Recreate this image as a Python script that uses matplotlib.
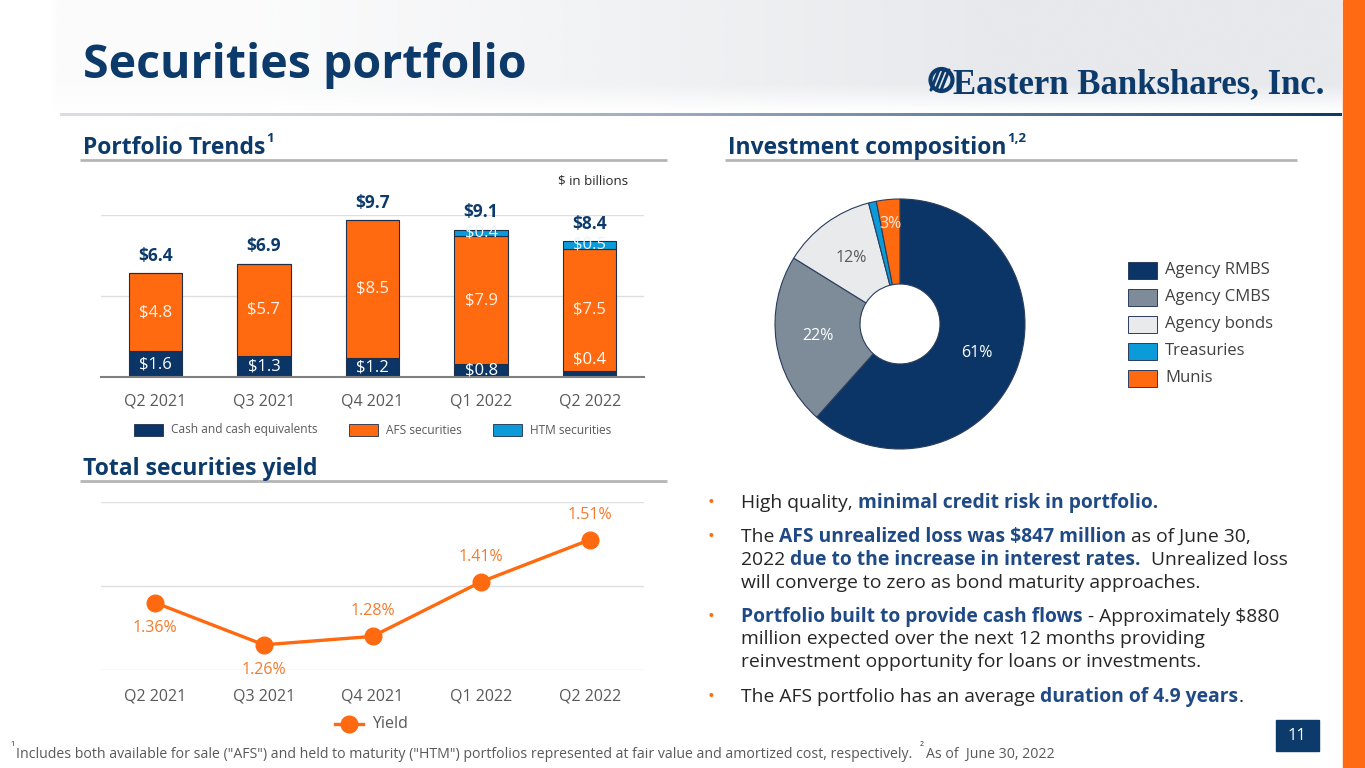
import matplotlib
matplotlib.use('Agg')
import matplotlib.pyplot as plt
import numpy as np
from matplotlib.patches import Rectangle, Circle
from matplotlib.lines import Line2D
from matplotlib.colors import to_rgb

# ---------------- data ----------------
quarters = ['Q2 2021', 'Q3 2021', 'Q4 2021', 'Q1 2022', 'Q2 2022']
cash = [1.6, 1.3, 1.2, 0.8, 0.4]
afs = [4.8, 5.7, 8.5, 7.9, 7.5]
htm = [0.0, 0.0, 0.0, 0.4, 0.5]
totals = [6.4, 6.9, 9.7, 9.1, 8.4]
bar_series = ['Cash and cash equivalents', 'AFS securities', 'HTM securities']

yields = [1.36, 1.26, 1.28, 1.41, 1.51]
yield_labels = ['1.36%', '1.26%', '1.28%', '1.41%', '1.51%']
yield_label_below = [True, True, False, False, False]

comp_labels = ['Agency RMBS', 'Agency CMBS', 'Agency bonds', 'Treasuries', 'Munis']
comp_values = [61, 22, 12, 1, 3]
comp_pct_text = ['61%', '22%', '12%', '', '3%']

# ---------------- style ----------------
NAVY = '#0B3566'
TITLE_NAVY = '#0C3A6B'
ORANGE = '#FF6A10'
LBLUE = '#0A9BD8'
GRAY_TXT = '#595959'
BOLD_BLUE = '#1F4A85'
comp_colors = [NAVY, '#7E8B99', '#E9EAEC', LBLUE, ORANGE]
comp_text_colors = ['white', 'white', '#595959', 'white', '#FFE8D8']

plt.rcParams['font.family'] = ['Open Sans', 'DejaVu Sans']

W, H = 1365, 768
fig = plt.figure(figsize=(W / 100, H / 100), dpi=100)
fig.patch.set_facecolor('white')

ov = fig.add_axes([0, 0, 1, 1], zorder=-5)
ov.set_xlim(0, W)
ov.set_ylim(H, 0)
ov.axis('off')

# header background (soft gray fade)
gx = np.linspace(0, 1, 200)
gy = np.linspace(0, 1, 40)
ax_alpha = np.clip(0.25 + 0.75 * (gx - 0.25) / 0.5, 0.15, 1.0)
ax_alpha[gx < 0.04] = 0
ay_alpha = np.clip((1 - gy) / 0.25, 0, 1)
alpha = np.outer(ay_alpha, ax_alpha) * 0.85
img = np.zeros((40, 200, 4))
img[..., :3] = to_rgb('#E3E5E9')
img[..., 3] = alpha
ov.imshow(img, extent=(0, 1342, 113, 0), aspect='auto', interpolation='bilinear', zorder=0)

# header line gradient
c0 = np.array(to_rgb('#DADDE2'))
c1 = np.array(to_rgb(TITLE_NAVY))
t = np.linspace(0, 1, 300) ** 1.6
line_img = (c0[None, :] * (1 - t[:, None]) + c1[None, :] * t[:, None])[None, :, :]
ov.imshow(line_img, extent=(60, 1342, 116.5, 113.5), aspect='auto', interpolation='bilinear', zorder=1)

# right orange bar
ov.add_patch(Rectangle((1343, 0), 22, H, color='#FF6A13', zorder=2))

# title
ov.text(83, 78, 'Securities portfolio', fontsize=33.5, fontweight='bold', color=TITLE_NAVY,
        va='baseline', ha='left')

# logo
ov.add_patch(Circle((941.5, 80), 11, facecolor='none', edgecolor=TITLE_NAVY, lw=3, zorder=3))
for k in (-4, 1, 6):
    ov.plot([935 + k, 943 + k], [90, 70], color=TITLE_NAVY, lw=2.2, zorder=3,
            solid_capstyle='round')
ov.text(953, 93, 'Eastern Bankshares, Inc.', fontsize=25, fontweight='bold',
        family=['Liberation Serif', 'DejaVu Serif'], color=TITLE_NAVY, va='baseline', ha='left')

renderer = fig.canvas.get_renderer()


def text_width(s, **kw):
    a = ov.text(0, 0, '|' + s + '|', **kw)
    b = ov.text(0, 0, '||', **kw)
    w = a.get_window_extent(renderer).width - b.get_window_extent(renderer).width
    a.remove()
    b.remove()
    return w


def heading(x, y, s, sup):
    ov.text(x, y, s, fontsize=16.5, fontweight='bold', color=TITLE_NAVY, va='baseline', ha='left')
    w = text_width(s, fontsize=16.5, fontweight='bold')
    ov.text(x + w + 1, y - 12, sup, fontsize=9.5, fontweight='bold', color=TITLE_NAVY,
            va='baseline', ha='left')


heading(83, 154, 'Portfolio Trends', '1')
heading(728, 154, 'Investment composition', '1,2')
ov.text(83, 475, 'Total securities yield', fontsize=16.5, fontweight='bold', color=TITLE_NAVY,
        va='baseline', ha='left')
for (x0, x1, y) in [(80, 667, 160), (725, 1297, 160), (80, 667, 481)]:
    ov.plot([x0, x1], [y, y], color='#B5B5B5', lw=2, zorder=2, solid_capstyle='butt')

# ---------------- bar chart ----------------
axb = fig.add_axes([101 / W, 1 - 377 / H, 543 / W, 162 / H])
x = np.arange(len(quarters))
bw = 0.49
bcolors = [NAVY, ORANGE, LBLUE]
edge = '#1E2F4A'
axb.bar(x, cash, bw, color=bcolors[0], edgecolor=edge, lw=0.8, zorder=3)
axb.bar(x, afs, bw, bottom=cash, color=bcolors[1], edgecolor=edge, lw=0.8, zorder=3)
bottom_htm = [c + a for c, a in zip(cash, afs)]
axb.bar(x, htm, bw, bottom=bottom_htm, color=bcolors[2], edgecolor=edge, lw=0.8, zorder=3)
axb.set_xlim(-0.5, len(quarters) - 0.5)
axb.set_ylim(0, 10)
axb.set_yticks([0, 5, 10])
axb.yaxis.grid(True, color='#DEDEDE', lw=1, zorder=0)
axb.tick_params(axis='y', left=False, labelleft=False)
axb.tick_params(axis='x', length=0, pad=12, labelsize=11.5, labelcolor=GRAY_TXT)
axb.set_xticks(x)
axb.set_xticklabels(quarters)
for s in ['top', 'right', 'left']:
    axb.spines[s].set_visible(False)
axb.spines['bottom'].set_color('#7F7F7F')
axb.spines['bottom'].set_linewidth(1.5)
axb.spines['bottom'].set_zorder(4)
axb.set_facecolor('none')

for i in range(len(quarters)):
    cy = cash[i] / 2 if cash[i] >= 0.6 else 1.1
    axb.text(x[i], cy, f'${cash[i]:.1f}', ha='center', va='center', color='white', fontsize=12, zorder=5)
    axb.text(x[i], cash[i] + afs[i] / 2, f'${afs[i]:.1f}', ha='center', va='center',
             color='#FFF1E8', fontsize=12, zorder=5)
    if htm[i] > 0:
        axb.text(x[i], bottom_htm[i] + htm[i] / 2, f'${htm[i]:.1f}', ha='center', va='center',
                 color='#E6F4FB', fontsize=12, zorder=5, clip_on=False)
    top = cash[i] + afs[i] + htm[i]
    axb.annotate(f'${totals[i]:.1f}', (x[i], top), xytext=(0, 6), textcoords='offset points',
                 ha='center', va='bottom', color=TITLE_NAVY, fontsize=12.5, fontweight='bold',
                 annotation_clip=False)

ov.text(628, 181, '$ in billions', fontsize=9.5, color='#262626', ha='right', va='center')

# bar legend
leg_items = [(134, bar_series[0]), (349, bar_series[1]), (493, bar_series[2])]
for (lx, lab), col in zip(leg_items, bcolors):
    ov.add_patch(Rectangle((lx, 423.5), 29, 12, facecolor=col, edgecolor=edge, lw=0.6))
    ov.text(lx + 37, 430, lab, fontsize=8.6, color=GRAY_TXT, va='center', ha='left')

# ---------------- line chart ----------------
axl = fig.add_axes([101 / W, 1 - 670 / H, 543 / W, 168 / H])
axl.plot(x, yields, color=ORANGE, lw=2.4, marker='o', markersize=12, zorder=4, clip_on=False)
axl.set_xlim(-0.5, len(quarters) - 0.5)
axl.set_ylim(1.2, 1.6)
axl.set_yticks([1.2, 1.4, 1.6])
axl.yaxis.grid(True, color='#E0E0E0', lw=1, zorder=0)
axl.tick_params(axis='y', left=False, labelleft=False)
axl.tick_params(axis='x', length=0, pad=13, labelsize=11.5, labelcolor=GRAY_TXT)
axl.set_xticks(x)
axl.set_xticklabels(quarters)
for s in axl.spines.values():
    s.set_visible(False)
axl.set_facecolor('none')
for i in range(len(quarters)):
    off = -18 if yield_label_below[i] else 18
    axl.annotate(yield_labels[i], (x[i], yields[i]), xytext=(0, off), textcoords='offset points',
                 ha='center', va='center', color='#F47B2C', fontsize=11.5, annotation_clip=False)

ov.add_line(Line2D([335, 363], [724, 724], color=ORANGE, lw=2.4, zorder=3))
ov.plot([349], [724], marker='o', color=ORANGE, markersize=12, zorder=4)
ov.text(372, 724, 'Yield', fontsize=11.5, color=GRAY_TXT, va='center', ha='left')

# ---------------- donut ----------------
axp = fig.add_axes([(900 - 125) / W, 1 - (324 + 125) / H, 250 / W, 250 / H])
wedges, _ = axp.pie(comp_values, colors=comp_colors, startangle=90, counterclock=False,
                    radius=1.0, wedgeprops=dict(width=0.68, edgecolor='#2A3D5C', linewidth=0.8))
axp.set_xlim(-1, 1)
axp.set_ylim(-1, 1)
for w, lab, tc in zip(wedges, comp_pct_text, comp_text_colors):
    if not lab:
        continue
    ang = np.deg2rad((w.theta1 + w.theta2) / 2)
    r = 0.66 if (w.theta2 - w.theta1) > 20 else 0.8
    axp.text(r * np.cos(ang), r * np.sin(ang), lab, ha='center', va='center',
             color=tc, fontsize=11.5)

for k, (lab, col) in enumerate(zip(comp_labels, comp_colors)):
    yy = 270 + 27 * k
    ov.add_patch(Rectangle((1128, yy - 8.5), 29, 17, facecolor=col, edgecolor='#2A3D5C', lw=0.7))
    ov.text(1165, yy, lab, fontsize=12, color='#404040', va='center', ha='left')

# ---------------- bullets ----------------
FS = 13.9
NORMAL = dict(fontsize=FS, color='#262626')
BOLD = dict(fontsize=FS, color=BOLD_BLUE, fontweight='bold')
bullet_lines = [
    (503, True, [('High quality, ', NORMAL), ('minimal credit risk in portfolio.', BOLD)]),
    (537, True, [('The ', NORMAL), ('AFS unrealized loss was $847 million', BOLD), (' as of June 30,', NORMAL)]),
    (560, False, [('2022 ', NORMAL), ('due to the increase in interest rates.', BOLD), ('  Unrealized loss', NORMAL)]),
    (583, False, [('will converge to zero as bond maturity approaches.', NORMAL)]),
    (617, True, [('Portfolio built to provide cash flows', BOLD), (' - Approximately $880', NORMAL)]),
    (639, False, [('million expected over the next 12 months providing', NORMAL)]),
    (662, False, [('reinvestment opportunity for loans or investments.', NORMAL)]),
    (697, True, [('The AFS portfolio has an average ', NORMAL), ('duration of 4.9 years', BOLD), ('.', NORMAL)]),
]
for yy, has_bullet, segs in bullet_lines:
    if has_bullet:
        ov.text(711, yy, '•', fontsize=13, color=ORANGE, ha='center', va='center')
    cx = 741
    for s, st in segs:
        ov.text(cx, yy, s.replace('$', r'\$'), ha='left', va='center', **st)
        cx += text_width(s.replace('$', r'\$'), **st)

# ---------------- footer ----------------
FFS = 10.2
ov.text(11, 751, '¹', fontsize=8.5, color=GRAY_TXT, va='baseline', ha='left')
foot1 = 'Includes both available for sale ("AFS") and held to maturity ("HTM") portfolios represented at fair value and amortized cost, respectively.  '
ov.text(16, 758, foot1, fontsize=FFS, color=GRAY_TXT, va='baseline', ha='left')
fw = text_width(foot1, fontsize=FFS)
ov.text(16 + fw, 751, '²', fontsize=8.5, color=GRAY_TXT, va='baseline', ha='left')
ov.text(16 + fw + 6, 758, 'As of  June 30, 2022', fontsize=FFS, color=GRAY_TXT, va='baseline', ha='left')

# page number
ov.add_patch(Rectangle((1276, 720), 43, 31, color=TITLE_NAVY, zorder=3))
ov.text(1297, 736, '11', fontsize=12, color='white', ha='center', va='center', zorder=4)

fig.savefig('out.png', dpi=100, facecolor='white')
